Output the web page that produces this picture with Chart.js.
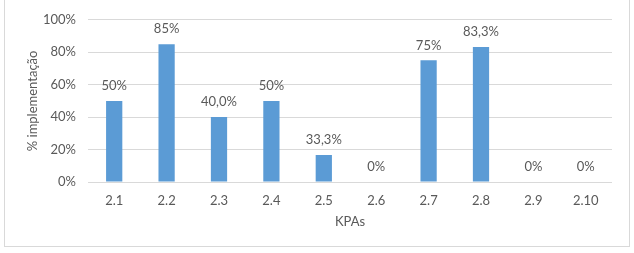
<!DOCTYPE html>
<html>
<head>
<meta charset="utf-8">
<script src="https://cdn.jsdelivr.net/npm/chart.js@4/dist/chart.umd.min.js"></script>
<style>
  html, body { margin: 0; padding: 0; background: #ffffff; }
  #wrap { position: relative; width: 634px; height: 253px; }
  #frame { position: absolute; left: 4px; top: -1px; width: 626px; height: 248px; border: 1px solid #d9d9d9; box-sizing: border-box; }
  canvas { position: absolute; left: 0; top: 0; }
</style>
</head>
<body>
<div id="wrap">
  <div id="frame"></div>
  <canvas id="kpa-chart" width="634" height="253"></canvas>
</div>
<script>
// KPA categories and implementation values (bar heights)
const kpas = ["2.1", "2.2", "2.3", "2.4", "2.5", "2.6", "2.7", "2.8", "2.9", "2.10"];
const implementation = [50, 85, 40, 50, 16.7, 0, 75, 83.3, 0, 0];
// labels printed above the bars, as written in the original
const bar_labels = ["50%", "85%", "40,0%", "50%", "33,3%", "0%", "75%", "83,3%", "0%", "0%"];
const y_ticks = [0, 20, 40, 60, 80, 100];

const text_colour = "#595959";
const font_family = "Lato, 'Open Sans', sans-serif";

// draws the value labels over each bar
const barLabels = {
  id: "barLabels",
  afterDatasetsDraw(chart) {
    const ctx = chart.ctx;
    const meta = chart.getDatasetMeta(0);
    ctx.save();
    ctx.font = "13px " + font_family;
    ctx.fillStyle = text_colour;
    ctx.textAlign = "center";
    ctx.textBaseline = "middle";
    meta.data.forEach((bar, i) => {
      ctx.fillText(bar_labels[i], bar.x, bar.y - 15);
    });
    ctx.restore();
  }
};

new Chart(document.getElementById("kpa-chart"), {
  type: "bar",
  data: {
    labels: kpas,
    datasets: [{
      data: implementation,
      backgroundColor: "#5b9bd5",
      barPercentage: 0.31,
      categoryPercentage: 1
    }]
  },
  options: {
    responsive: false,
    animation: false,
    layout: { padding: { left: 0, right: 22, top: 17, bottom: 23 } },
    plugins: {
      legend: { display: false },
      tooltip: { enabled: false }
    },
    scales: {
      x: {
        grid: { display: false, drawTicks: false },
        border: { display: false },
        ticks: { color: text_colour, font: { size: 13, family: font_family }, padding: 11 },
        title: {
          display: true,
          text: "KPAs",
          color: text_colour,
          font: { size: 13, family: font_family },
          padding: { top: 0, bottom: 0 }
        },
        afterFit: (scale) => { scale.height = 48; }
      },
      y: {
        min: 0,
        max: 100,
        afterBuildTicks: (scale) => { scale.ticks = y_ticks.map(v => ({ value: v })); },
        grid: { color: "#d9d9d9", drawTicks: false },
        border: { display: false },
        ticks: {
          color: text_colour,
          font: { size: 13, family: font_family },
          padding: 12,
          callback: v => v + "%"
        },
        title: {
          display: true,
          text: "% implementação",
          color: text_colour,
          font: { size: 13, family: font_family },
          padding: { top: 25, bottom: 0 }
        },
        afterFit: (scale) => { scale.width = 88; }
      }
    }
  },
  plugins: [barLabels]
});
</script>
</body>
</html>
